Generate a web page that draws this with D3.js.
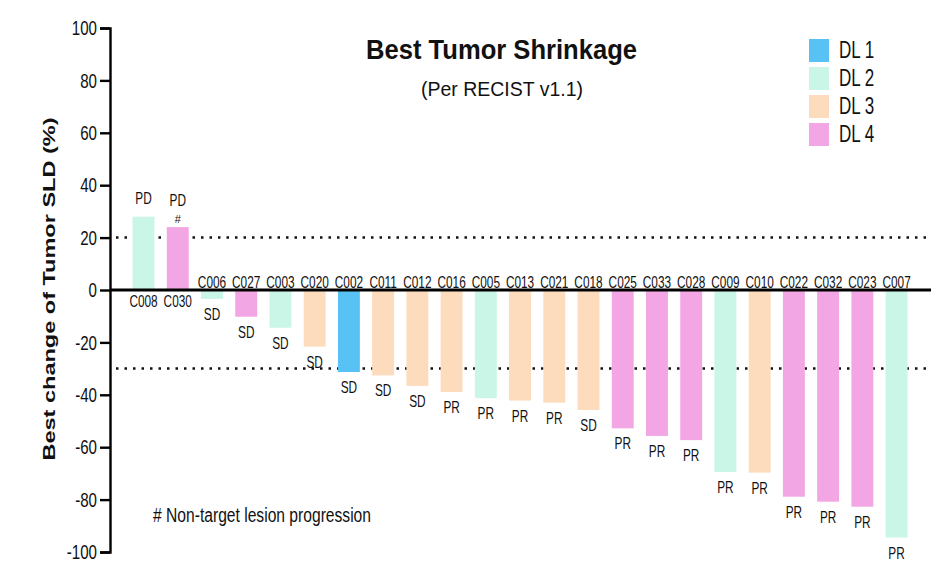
<!DOCTYPE html>
<html><head><meta charset="utf-8">
<script src="https://cdn.jsdelivr.net/npm/d3@7"></script>
<style>
body{margin:0;background:#fff;}
text{font-family:"Liberation Sans",Arial,sans-serif;fill:#111;}
</style></head>
<body><svg id="c" width="941" height="573"></svg>
<script>
const patients = ["C008","C030","C006","C027","C003","C020","C002","C011","C012","C016","C005","C013","C021","C018","C025","C033","C028","C009","C010","C022","C032","C023","C007"];
const values = [28.0,24.0,-3.4,-10.2,-14.4,-21.6,-31.3,-32.6,-36.6,-38.9,-41.3,-42.2,-43.0,-45.8,-52.8,-55.7,-57.3,-69.5,-69.7,-78.9,-80.8,-82.7,-94.5];
const responses = ["PD","PD","SD","SD","SD","SD","SD","SD","SD","PR","PR","PR","PR","SD","PR","PR","PR","PR","PR","PR","PR","PR","PR"];
const marks = ["","#","","","","","","","","","","","","","","","","","","","","",""];
const doseLevels = ["DL 2","DL 4","DL 2","DL 4","DL 2","DL 3","DL 1","DL 3","DL 3","DL 3","DL 2","DL 3","DL 3","DL 3","DL 4","DL 4","DL 4","DL 2","DL 3","DL 4","DL 4","DL 4","DL 2"];
const legendLabels = ["DL 1","DL 2","DL 3","DL 4"];
const legendColors = ["#58c2f5","#c9f6e6","#fcdcbc","#f2a6e4"];
const yTicks = [100,80,60,40,20,0,-20,-40,-60,-80,-100];
const refLines = [20,-30];

const svg = d3.select("#c");
const y = d3.scaleLinear().domain([-100,100]).range([552,28]);
const x = d3.scaleBand().domain(patients).range([122.3,917.8]).paddingInner(0.36).paddingOuter(0.3);
const color = d3.scaleOrdinal().domain(legendLabels).range(legendColors);
const axisX = 110;
const NARROW = 0.74;
const cx = d => x(d)+x.bandwidth()/2;

function fitTo(sel, w){
  sel.attr("textLength", w).attr("lengthAdjust","spacingAndGlyphs");
}

// reference dotted lines
svg.selectAll(".ref").data(refLines).join("line")
  .attr("x1",axisX+6).attr("x2",931)
  .attr("y1",d=>y(d)).attr("y2",d=>y(d))
  .attr("stroke","#111").attr("stroke-width",2.5).attr("stroke-dasharray","2.5,6");

// bars
svg.selectAll(".bar").data(patients).join("rect")
  .attr("x",d=>x(d)).attr("width",x.bandwidth())
  .attr("y",(d,i)=>y(Math.max(0,values[i])))
  .attr("height",(d,i)=>Math.abs(y(values[i])-y(0)))
  .attr("fill",(d,i)=>color(doseLevels[i]));

// zero line
svg.append("line").attr("x1",axisX).attr("x2",931).attr("y1",y(0)).attr("y2",y(0))
  .attr("stroke","#000").attr("stroke-width",3);

// y axis
const ax = svg.append("g").attr("transform",`translate(${axisX},0)`)
  .call(d3.axisLeft(y).tickValues(yTicks).tickSize(10).tickPadding(3).tickFormat(d=>String(d)));
ax.select(".domain").attr("stroke","#000").attr("stroke-width",2.4);
ax.selectAll(".tick line").attr("stroke","#000").attr("stroke-width",2.4);
ax.selectAll(".tick text").attr("font-size",21).attr("fill","#111")
  .style("font-family",'"Liberation Sans",Arial,sans-serif')
  .attr("x",-13/0.72).attr("transform","scale(0.72,1)");

// ID labels
svg.selectAll(".id").data(patients).join("text")
  .attr("transform",(d,i)=>`translate(${cx(d)},${values[i]>=0 ? y(0)+17 : y(0)-2}) scale(${NARROW},1)`)
  .attr("text-anchor","middle").attr("font-size",16).text(d=>d);

// response labels
svg.selectAll(".resp").data(patients).join("text")
  .attr("transform",(d,i)=>`translate(${cx(d)},${values[i]>=0 ? y(values[i])-(marks[i]?21:12.5) : y(values[i])+21}) scale(${NARROW},1)`)
  .attr("text-anchor","middle").attr("font-size",16).text((d,i)=>responses[i]);

svg.selectAll(".mark").data(patients.filter((d,i)=>marks[i])).join("text")
  .attr("x",d=>cx(d))
  .attr("y",d=>y(values[patients.indexOf(d)])-4)
  .attr("text-anchor","middle").attr("font-size",11).text(d=>marks[patients.indexOf(d)]);

// y label
fitTo(svg.append("text").attr("transform","translate(55,289) rotate(-90)")
  .attr("text-anchor","middle").attr("font-size",17).attr("font-weight","bold")
  .text("Best change of Tumor SLD (%)"), 343);

// title
fitTo(svg.append("text").attr("x",501.5).attr("y",58.5).attr("text-anchor","middle")
  .attr("font-size",28).attr("font-weight","bold").text("Best Tumor Shrinkage"), 271);
fitTo(svg.append("text").attr("x",502).attr("y",95.5).attr("text-anchor","middle")
  .attr("font-size",21).text("(Per RECIST v1.1)"), 162);

// legend
const lg = svg.selectAll(".lg").data(legendLabels).join("g")
  .attr("transform",(d,i)=>`translate(809,${39+i*28})`);
lg.append("rect").attr("width",20).attr("height",23).attr("fill",d=>color(d));
lg.append("text").attr("transform",`translate(30,18.5) scale(${NARROW},1)`)
  .attr("font-size",23).text(d=>d);

// footnote
fitTo(svg.append("text").attr("x",153).attr("y",521.5).attr("font-size",20)
  .text("#  Non-target lesion progression"), 218);
</script></body></html>
